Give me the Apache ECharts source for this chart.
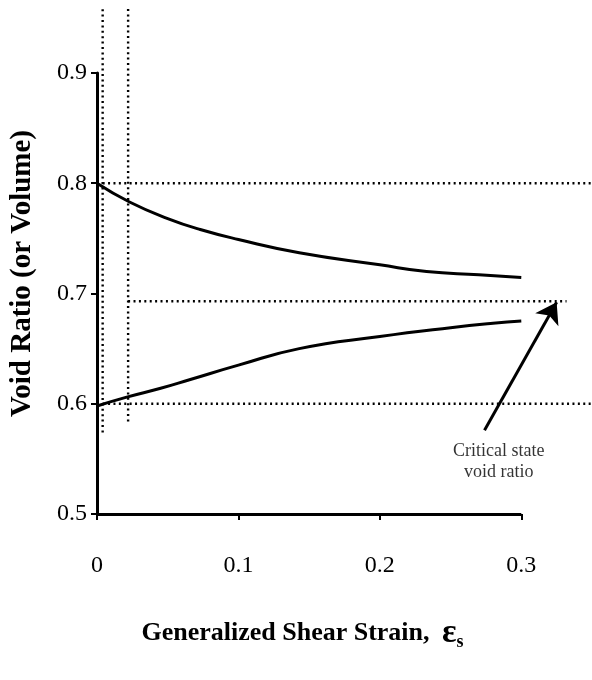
<!DOCTYPE html>
<html>
<head>
<meta charset="utf-8" />
<title>Void ratio vs generalized shear strain</title>
<script src="https://cdn.jsdelivr.net/npm/echarts@6/dist/echarts.min.js"></script>
<style type="text/css">
  html, body { margin: 0; padding: 0; background: #fff; }
</style>
</head>
<body>
<div id="main" style="width: 592px; height: 680px"></div>
<script type="text/javascript">
// data
var looseStrain = [0, 0.023, 0.05, 0.073, 0.1, 0.143, 0.2, 0.233, 0.27, 0.3];
var looseVoid   = [0.800, 0.783, 0.768, 0.758, 0.749, 0.737, 0.726, 0.720, 0.717, 0.7145];
var denseStrain = [0, 0.021, 0.045, 0.066, 0.1, 0.143, 0.2, 0.25, 0.28, 0.3];
var denseVoid   = [0.598, 0.606, 0.614, 0.622, 0.635, 0.650, 0.661, 0.669, 0.673, 0.675];

// dotted guides: [x start, y, x end] and [x, y start, y end]
var guideH = [[0.004, 0.8, 0.35], [0.022, 0.693, 0.332], [0.004, 0.6, 0.35]];
var guideV = [[0.004, 0.574, 0.958], [0.022, 0.584, 0.958]];

var arrowFrom = [0.274, 0.576];
var arrowTo = [0.325, 0.692];
var notePos = [0.284, 0.547];
var noteText = 'Critical state\nvoid ratio';

var xTicks = [0, 0.1, 0.2, 0.3];
var xRangeMax = 0.35;   // plot area runs on past the last tick, to the page edge
var yTicks = [0.5, 0.6, 0.7, 0.8, 0.9];

var serif = 'Liberation Serif';

function zip(xs, ys) {
    return xs.map(function (x, i) { return [x, ys[i]]; });
}

var series = [];

guideH.forEach(function (g) {
    series.push({
        type: 'line', clip: false, symbol: 'none', silent: true,
        data: [[g[0], g[1]], [g[2], g[1]]],
        lineStyle: { color: '#000', width: 2.4, type: [2, 3.4] }
    });
});
guideV.forEach(function (g) {
    series.push({
        type: 'line', clip: false, symbol: 'none', silent: true,
        data: [[g[0], g[1]], [g[0], g[2]]],
        lineStyle: { color: '#000', width: 2.4, type: [2, 3.4] }
    });
});

series.push({
    type: 'line', smooth: true, symbol: 'none', clip: false,
    data: zip(looseStrain, looseVoid),
    lineStyle: { color: '#000', width: 3 },
    // x axis line, only as far as the last tick
    markLine: {
        silent: true,
        symbol: 'none',
        label: { show: false },
        lineStyle: { color: '#000', width: 3, type: 'solid' },
        data: [[{ coord: [xTicks[0], yTicks[0]] }, { coord: [xTicks[xTicks.length - 1], yTicks[0]] }]]
    }
});
series.push({
    type: 'line', smooth: true, symbol: 'none', clip: false,
    data: zip(denseStrain, denseVoid),
    lineStyle: { color: '#000', width: 3 },
    markLine: {
        silent: true,
        symbol: ['none', 'arrow'],
        symbolSize: 20,
        label: { show: false },
        itemStyle: { color: '#000' },
        lineStyle: { color: '#000', width: 3, type: 'solid' },
        data: [[{ coord: arrowFrom }, { coord: arrowTo }]]
    }
});
series.push({
    type: 'scatter', symbolSize: 0, silent: true,
    data: [notePos],
    label: {
        show: true, position: 'inside', formatter: noteText,
        color: '#000', fontFamily: serif, fontSize: 18, lineHeight: 21
    }
});

var myChart = echarts.init(document.getElementById('main'));

var option = {
    animation: false,
    backgroundColor: '#fff',
    grid: { left: 97, right: 0, top: 73, bottom: 166, outerBoundsMode: 'none' },
    xAxis: {
        type: 'value',
        min: xTicks[0], max: xRangeMax,
        splitLine: { show: false },
        axisLine: { show: false },
        axisTick: { show: true, length: 6, customValues: xTicks, lineStyle: { color: '#000', width: 2 } },
        axisLabel: {
            margin: 40, color: '#000', fontFamily: serif, fontSize: 24,
            customValues: xTicks,
            formatter: function (v) { return v === 0 ? '0' : v.toFixed(1); }
        },
        name: 'Generalized Shear Strain, {e|ε}{s|s}',
        nameLocation: 'middle',
        nameGap: 101,
        nameTextStyle: {
            color: '#000', fontFamily: serif, fontSize: 26, fontWeight: 'bold',
            padding: [0, 84, 0, 0],
            rich: {
                e: { fontFamily: serif, fontSize: 34, fontWeight: 'bold', color: '#000', padding: [0, 0, 0, 6] },
                s: { fontFamily: serif, fontSize: 18, fontWeight: 'bold', color: '#000', padding: [18, 0, 0, 0] }
            }
        }
    },
    yAxis: {
        type: 'value',
        min: yTicks[0], max: yTicks[yTicks.length - 1], interval: 0.1,
        splitLine: { show: false },
        axisLine: { lineStyle: { color: '#000', width: 3 } },
        axisTick: { show: true, length: 6, lineStyle: { color: '#000', width: 2 } },
        axisLabel: {
            margin: 10, color: '#000', fontFamily: serif, fontSize: 24,
            formatter: function (v) { return v.toFixed(1); }
        },
        name: 'Void Ratio (or Volume)',
        nameLocation: 'middle',
        nameGap: 60,
        nameTextStyle: {
            color: '#000', fontFamily: serif, fontSize: 29, fontWeight: 'bold',
            padding: [0, 0, 0, 40]
        }
    },
    series: series
};

myChart.setOption(option);
</script>
</body>
</html>
